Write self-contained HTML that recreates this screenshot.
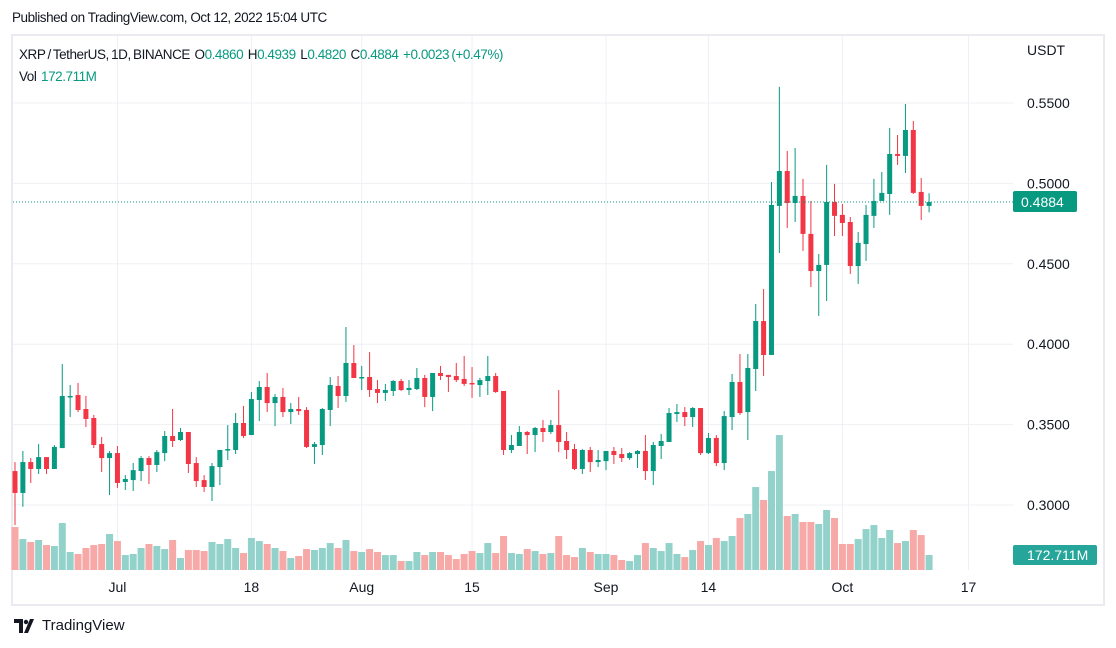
<!DOCTYPE html>
<html><head><meta charset="utf-8">
<style>
body{margin:0;background:#fff;width:1116px;height:648px;overflow:hidden;font-family:"Liberation Sans",sans-serif;color:#131722}
#hdr{position:absolute;left:12px;top:10px;font-size:13.5px;letter-spacing:-0.45px;color:#131722}
#frame{position:absolute;left:11px;top:34px;width:1090px;height:568px;border:2px solid #e9ebf0}
#legend{position:absolute;left:19px;top:44px;font-size:13.5px;letter-spacing:-0.45px;line-height:22px;word-spacing:-1px}
.g{color:#089981}
#logo{position:absolute;left:14px;top:617px;font-size:15px;color:#131722;display:flex;align-items:center;gap:4px}
svg{position:absolute;left:0;top:0}
</style></head><body>
<div id="hdr">Published on TradingView.com, Oct 12, 2022 15:04 UTC</div>
<div id="frame"></div>
<svg id="chart" width="1116" height="648"></svg>
<div id="legend">
<div>XRP / TetherUS, 1D, BINANCE&nbsp; O<span class="g">0.4860</span>&nbsp; H<span class="g">0.4939</span>&nbsp; L<span class="g">0.4820</span>&nbsp; C<span class="g">0.4884</span>&nbsp; <span class="g">+0.0023 (+0.47%)</span></div>
<div>Vol&nbsp; <span class="g">172.711M</span></div>
</div>
<div id="logo"><svg style="position:static" width="24" height="14" viewBox="0 0 24 14"><path d="M0 0h9v14H5V4H0z M10 14l6-14h4l-6 14z" fill="#131722"/><circle cx="12" cy="3" r="2.2" fill="#131722"/></svg><span>TradingView</span></div>
<script>
const opens=[.3211,.3075,.3267,.3224,.3298,.3224,.3354,.3672,.3684,.3597,.3541,.3379,.3292,.3323,.3143,.3155,.3211,.3292,.3249,.3323,.3429,.3404,.3454,.3261,.3155,
.3112,.3236,.3342,.3342,.3510,.3435,.3653,.3734,.3634,.3672,.3578,.3597,.3591,.3361,.3373,.3591,.3740,.3678,.3883,.3790,.3796,.3721,.3697,.3709,
.3771,.3715,.3721,.3790,.3672,.3821,.3809,.3802,.3784,.3759,.3746,.3771,.3802,.3709,.3342,.3367,.3454,.3435,.3479,.3454,.3497,.3398,.3348,.3224,.3342,
.3267,.3273,.3336,.3317,.3292,.3317,.3336,.3211,.3367,.3392,.3566,.3578,.3547,.3603,.3323,.3417,.3261,.3547,.3765,.3578,.3846,.4144,.3933,.4860,
.5077,.4878,.4922,.4686,.4455,.4493,.4885,.4804,.4760,.4486,.4623,.4798,.4891,.4934,.5183,.5171,.5332,.4947,.4860];
const highs=[.3267,.3336,.3292,.3379,.3298,.3373,.3877,.3746,.3759,.3678,.3560,.3423,.3336,.3367,.3186,.3261,.3304,.3304,.3342,.3460,.3597,.3479,.3454,.3298,.3186,
.3261,.3342,.3497,.3572,.3616,.3703,.3771,.3821,.3690,.3728,.3634,.3672,.3609,.3392,.3603,.3796,.3802,.4107,.3995,.3865,.3951,.3777,.3753,.3777,
.3784,.3777,.3852,.3809,.3821,.3865,.3809,.3883,.3927,.3858,.3790,.3927,.3821,.3709,.3435,.3491,.3460,.3485,.3529,.3529,.3715,.3454,.3379,.3348,.3361,
.3342,.3336,.3361,.3354,.3329,.3342,.3435,.3392,.3442,.3603,.3628,.3609,.3609,.3603,.3448,.3435,.3584,.3815,.3939,.3939,.4250,.4343,.5009,.5600,
.5202,.5220,.5028,.4891,.4561,.5115,.4997,.4872,.4791,.4698,.4866,.5028,.5071,.5345,.5301,.5494,.5388,.5034,.4939];
const lows=[.2875,.2989,.3137,.3193,.3193,.3224,.3354,.3547,.3578,.3485,.3354,.3205,.3062,.3106,.3093,.3087,.3149,.3130,.3205,.3273,.3361,.3398,.3199,.3112,.3081,
.3025,.3124,.3280,.3317,.3417,.3435,.3522,.3578,.3491,.3547,.3504,.3560,.3354,.3255,.3311,.3491,.3603,.3641,.3790,.3715,.3672,.3634,.3647,.3678,
.3709,.3684,.3715,.3609,.3584,.3777,.3703,.3765,.3740,.3666,.3672,.3684,.3697,.3311,.3323,.3367,.3317,.3329,.3392,.3442,.3329,.3286,.3217,.3193,.3205,
.3236,.3217,.3255,.3267,.3280,.3230,.3155,.3124,.3286,.3392,.3516,.3491,.3485,.3311,.3317,.3242,.3217,.3466,.3560,.3404,.3709,.3802,.3933,.4567,
.4723,.4760,.4580,.4356,.4176,.4269,.4673,.4673,.4437,.4375,.4518,.4723,.4891,.4804,.5115,.5065,.4934,.4772,.4820];
const closes=[.3075,.3267,.3224,.3298,.3224,.3361,.3678,.3678,.3591,.3535,.3373,.3292,.3323,.3137,.3162,.3217,.3292,.3249,.3329,.3429,.3398,.3454,.3255,.3149,.3112,
.3242,.3342,.3348,.3510,.3429,.3659,.3734,.3634,.3672,.3578,.3597,.3584,.3361,.3379,.3597,.3746,.3678,.3883,.3790,.3796,.3715,.3697,.3715,.3771,
.3715,.3728,.3790,.3672,.3821,.3802,.3796,.3777,.3753,.3753,.3777,.3802,.3703,.3342,.3373,.3454,.3435,.3479,.3454,.3497,.3392,.3342,.3224,.3342,.3267,
.3280,.3336,.3311,.3292,.3323,.3336,.3211,.3373,.3398,.3572,.3578,.3547,.3603,.3323,.3417,.3261,.3553,.3765,.3572,.3852,.4144,.3933,.4866,.5077,
.4878,.4922,.4686,.4455,.4493,.4885,.4798,.4754,.4486,.4630,.4804,.4891,.4941,.5183,.5171,.5332,.4941,.4860,.4884];
const volumes=[494,356,322,345,287,276,540,207,184,253,287,299,414,333,172,184,253,299,276,241,345,138,230,230,218,
322,299,356,253,195,368,333,299,253,218,138,161,241,230,253,310,253,345,218,207,241,207,172,172,
103,103,207,172,207,207,172,126,184,218,195,310,195,391,195,184,241,218,184,195,391,172,149,253,207,
184,184,172,115,103,172,310,253,218,310,184,149,230,333,287,368,333,391,598,644,954,805,1138,1552,
621,644,552,552,529,690,598,299,299,356,471,517,368,460,310,333,460,402,172.711];
const priceTicks=[0.30,0.35,0.40,0.45,0.50,0.55];
const timeTickLabels=["Jul","18","Aug","15","Sep","14","Oct","17"];
const timeTickIdx=[13,30,44,58,75,88,105,121];
const lastPrice=0.4884;

const NS="http://www.w3.org/2000/svg";
const svg=document.getElementById('chart');
const plotR=1013,vBase=570;
function X(i){return 15+i*7.88;}
function Y(p){return 103+(0.55-p)*1608;}
function VY(v){return vBase-v/11.5;}
function mk(tag,attrs,parent){const e=document.createElementNS(NS,tag);for(const k in attrs)e.setAttribute(k,attrs[k]);(parent||svg).appendChild(e);return e;}

priceTicks.forEach(p=>{
  const l=mk('line',{x1:13,x2:plotR,y1:Y(p),y2:Y(p),stroke:'#eef0f5','stroke-width':1});
  
  
  const t=mk('text',{x:1027,y:Y(p)+5,'font-size':14,fill:'#131722','font-family':'Liberation Sans'});
  t.textContent=p.toFixed(4);
  
  
});
timeTickIdx.forEach((idx,k)=>{
  const l=mk('line',{x1:X(idx),x2:X(idx),y1:36,y2:vBase,stroke:'#eef0f5','stroke-width':1});
  
  
  const t=mk('text',{x:X(idx),y:592,'font-size':14,fill:'#131722','text-anchor':'middle','font-family':'Liberation Sans'});
  t.textContent=timeTickLabels[k];
  
  
});
const u=mk('text',{x:1027,y:55,'font-size':14,fill:'#131722','font-family':'Liberation Sans'});
u.textContent='USDT';



volumes.forEach((v,i)=>{
  const up=closes[i]>=opens[i];
  const r=mk('rect',{x:X(i)-3.5,y:VY(v),width:7,height:vBase-VY(v),fill:up?'#92d2cb':'#f7a9a7'});
  
  
});
opens.forEach((o,i)=>{
  const c=closes[i],up=c>=o,col=up?'#089981':'#f23645';
  const g=mk('g',{});
  
  
  mk('line',{x1:X(i),x2:X(i),y1:Y(highs[i]),y2:Y(lows[i]),stroke:col,'stroke-width':1},g);
  const top=Y(Math.max(o,c)),h=Math.max(1.5,Math.abs(Y(o)-Y(c)));
  mk('rect',{x:X(i)-2.5,y:top,width:5,height:h,fill:col},g);
});
const pl=mk('line',{x1:13,x2:plotR,y1:Y(lastPrice),y2:Y(lastPrice),stroke:'#089981','stroke-width':1,'stroke-dasharray':'1 2'});


const pb=mk('rect',{x:plotR,y:Y(lastPrice)-11,width:64,height:21,rx:2,fill:'#089981'});


const pt=mk('text',{x:plotR+8,y:Y(lastPrice)+5,'font-size':14,fill:'#fff','font-family':'Liberation Sans'});
pt.textContent=lastPrice.toFixed(4);


const lv=volumes[volumes.length-1];
const vb=mk('rect',{x:plotR,y:545,width:84,height:20,rx:2,fill:'#26a69a'});


const vt=mk('text',{x:plotR+14,y:560,'font-size':14,fill:'#fff','font-family':'Liberation Sans'});
vt.textContent=lv.toFixed(3)+'M';


</script>
</body></html>
